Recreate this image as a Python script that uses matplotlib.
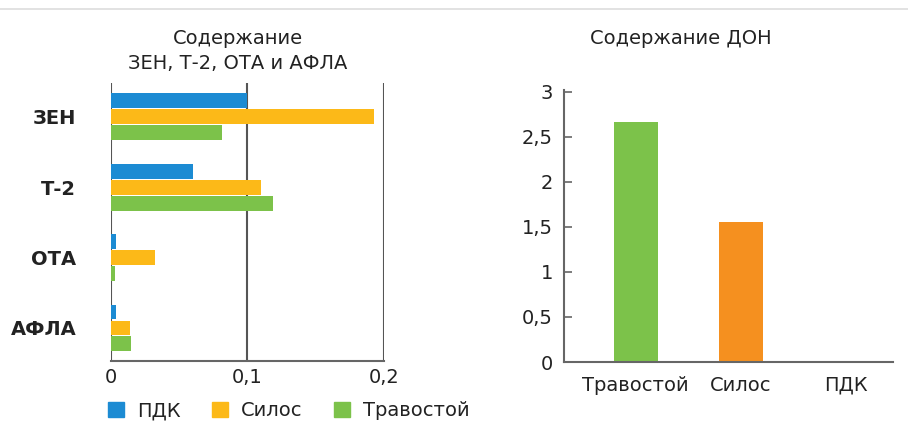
import numpy as np
import matplotlib.pyplot as plt
from matplotlib.lines import Line2D
from matplotlib.patches import Patch

plt.rcParams['font.family'] = ['DejaVu Sans']

# left chart data
toxins = ["ЗЕН", "Т-2", "ОТА", "АФЛА"]
pdk = [0.100, 0.060, 0.004, 0.004]
silos = [0.193, 0.110, 0.032, 0.014]
travostoy = [0.081, 0.119, 0.003, 0.015]
series_names = ["ПДК", "Силос", "Травостой"]

# right chart data
don_labels = ["Травостой", "Силос", "ПДК"]
don_values = [2.66, 1.55, 0.0]

blue = "#1c8bd3"
yellow = "#fcb918"
green = "#7cc24a"
orange = "#f5901f"
txt = "#222222"
axc = "#666666"

fig = plt.figure(figsize=(9.08, 4.30), dpi=100)

# separator line at the top
fig.add_artist(Line2D([0, 1], [0.979, 0.979], color="#dddddd", lw=1.2))

# ---- left: horizontal bars
ax = fig.add_axes([0.1222, 0.1605, 0.3007, 0.6465])
y = np.arange(len(toxins))
h = 0.21
off = 0.227
ax.barh(y - off, pdk, height=h, color=blue)
ax.barh(y, silos, height=h, color=yellow)
ax.barh(y + off, travostoy, height=h, color=green)
ax.set_xlim(0, 0.2)
ax.set_ylim(3.47, -0.48)
for x in [0, 0.1, 0.2]:
    ax.axvline(x, color="#555555", lw=1.5, zorder=0)
for s in ["top", "right", "left"]:
    ax.spines[s].set_visible(False)
ax.spines["bottom"].set_color(axc)
ax.spines["bottom"].set_linewidth(1.5)
ax.set_xticks([0, 0.1, 0.2])
ax.set_xticklabels(["0", "0,1", "0,2"], fontsize=14, color=txt)
ax.set_yticks(y)
ax.set_yticklabels(toxins, fontsize=14, color=txt, fontweight="bold")
ax.tick_params(length=0, pad=5)
ax.tick_params(axis="y", pad=25)
fig.text(0.262, 0.91, "Содержание", ha="center", va="center", fontsize=14, color=txt)
fig.text(0.262, 0.853, "ЗЕН, Т-2, ОТА и АФЛА", ha="center", va="center", fontsize=14, color=txt)

handles = [Patch(color=c) for c in [blue, yellow, green]]
fig.legend(handles, series_names, loc="center left", bbox_to_anchor=(0.10, 0.045),
           ncol=3, frameon=False, fontsize=14, handlelength=0.8, handleheight=0.8,
           columnspacing=1.6, handletextpad=0.7, labelcolor=txt)

# ---- right: DON bars
ax2 = fig.add_axes([0.621, 0.158, 0.363, 0.633])
xb = np.arange(len(don_labels))
ax2.bar(xb, don_values, width=0.42, color=[green, orange, blue])
ax2.set_xlim(-0.686, 2.457)
ax2.set_ylim(0, 3.02)
ax2.set_yticks([0, 0.5, 1, 1.5, 2, 2.5, 3])
ax2.set_yticklabels(["0", "0,5", "1", "1,5", "2", "2,5", "3"], fontsize=14, color=txt)
ax2.set_xticks(xb)
ax2.set_xticklabels(don_labels, fontsize=14, color=txt)
for s in ["top", "right"]:
    ax2.spines[s].set_visible(False)
for s in ["left", "bottom"]:
    ax2.spines[s].set_color(axc)
    ax2.spines[s].set_linewidth(1.5)
ax2.tick_params(axis="y", direction="in", length=6, width=1.2, color=axc, pad=8)
ax2.tick_params(axis="x", length=0, pad=10)
fig.text(0.75, 0.91, "Содержание ДОН", ha="center", va="center", fontsize=14, color=txt)

fig.savefig("out.png", dpi=100, facecolor="white")
